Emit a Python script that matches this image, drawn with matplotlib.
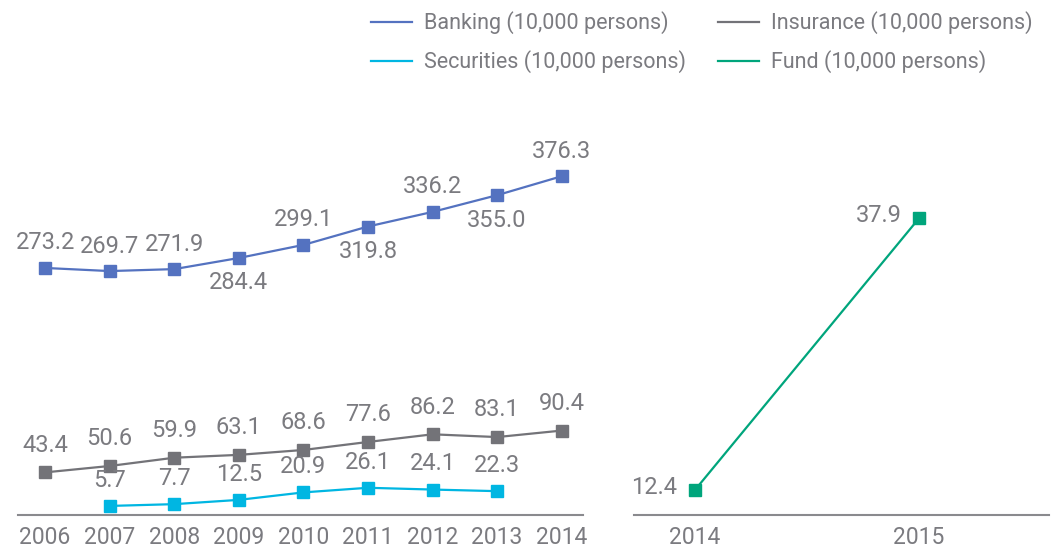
import matplotlib
matplotlib.use("Agg")
import matplotlib.pyplot as plt
from matplotlib.lines import Line2D

plt.rcParams['font.family'] = ['Roboto', 'DejaVu Sans']

years = ["2006", "2007", "2008", "2009", "2010", "2011", "2012", "2013", "2014"]
banking = [273.2, 269.7, 271.9, 284.4, 299.1, 319.8, 336.2, 355.0, 376.3]
insurance = [43.4, 50.6, 59.9, 63.1, 68.6, 77.6, 86.2, 83.1, 90.4]
securities = [None, 5.7, 7.7, 12.5, 20.9, 26.1, 24.1, 22.3, None]
fund_years = ["2014", "2015"]
fund = [12.4, 37.9]

# label above (+1) or below (-1) the point
banking_side = [1, 1, 1, -1, 1, -1, 1, -1, 1]

c_bank = '#5472c0'
c_ins = '#737378'
c_sec = '#00b6e2'
c_fund = '#00a57c'
c_text = '#7b7b80'
fs = 17

W, H = 1052, 553
fig = plt.figure(figsize=(W / 100, H / 100), dpi=100)

def axes_px(x0, x1, y_top, y_bot):
    return fig.add_axes([x0 / W, 1 - y_bot / H, (x1 - x0) / W, (y_bot - y_top) / H])

ax1 = axes_px(18, 583, 100, 515)
ax2 = axes_px(634, 1049, 100, 515)

for ax in (ax1, ax2):
    for s in ('top', 'left', 'right'):
        ax.spines[s].set_visible(False)
    ax.spines['bottom'].set_color('#8a8a8e')
    ax.spines['bottom'].set_linewidth(1.5)
    ax.set_yticks([])
    ax.tick_params(axis='x', length=0, pad=8, labelsize=16.5, labelcolor=c_text)

x = list(range(len(years)))
ax1.plot(x, banking, color=c_bank, lw=1.6, marker='s', ms=9)
ax1.plot(x, insurance, color=c_ins, lw=1.6, marker='s', ms=9)
sx = [i for i, v in enumerate(securities) if v is not None]
sv = [v for v in securities if v is not None]
ax1.plot(sx, sv, color=c_sec, lw=1.6, marker='s', ms=9)

ax1.set_xticks(x)
ax1.set_xticklabels(years)
ax1.set_xlim(-0.42, 8.33)
ax1.set_ylim(-4.5, 462)

for i, v in enumerate(banking):
    ax1.annotate(f"{v:.1f}", (i, v), xytext=(0, 18 * banking_side[i]), textcoords='offset points',
                 ha='center', va='center', fontsize=fs, color=c_text)
for i, v in enumerate(insurance):
    ax1.annotate(f"{v:.1f}", (i, v), xytext=(0, 19.5), textcoords='offset points',
                 ha='center', va='center', fontsize=fs, color=c_text)
for i, v in zip(sx, sv):
    ax1.annotate(f"{v:.1f}", (i, v), xytext=(0, 18.5), textcoords='offset points',
                 ha='center', va='center', fontsize=fs, color=c_text)

fx = list(range(len(fund_years)))
ax2.plot(fx, fund, color=c_fund, lw=1.6, marker='s', ms=9)
ax2.set_xticks(fx)
ax2.set_xticklabels(fund_years)
ax2.set_xlim(-0.27, 1.58)
ax2.set_ylim(10.1, 49.0)
for i, v in zip(fx, fund):
    ax2.annotate(f"{v:.1f}", (i, v), xytext=(-29, 2), textcoords='offset points',
                 ha='center', va='center', fontsize=fs, color=c_text)

handles = [
    Line2D([], [], color=c_bank, lw=1.6, label="Banking (10,000 persons)"),
    Line2D([], [], color=c_sec, lw=1.6, label="Securities (10,000 persons)"),
    Line2D([], [], color=c_ins, lw=1.6, label="Insurance (10,000 persons)"),
    Line2D([], [], color=c_fund, lw=1.6, label="Fund (10,000 persons)"),
]
leg = fig.legend(handles=handles, ncol=2, loc='upper left',
                 bbox_to_anchor=(352 / W, 1 + 8 / H), frameon=False,
                 fontsize=15.5, handlelength=1.9, handletextpad=0.55,
                 columnspacing=1.5, labelspacing=0.75, labelcolor=c_text)

fig.savefig("out.png", dpi=100)
